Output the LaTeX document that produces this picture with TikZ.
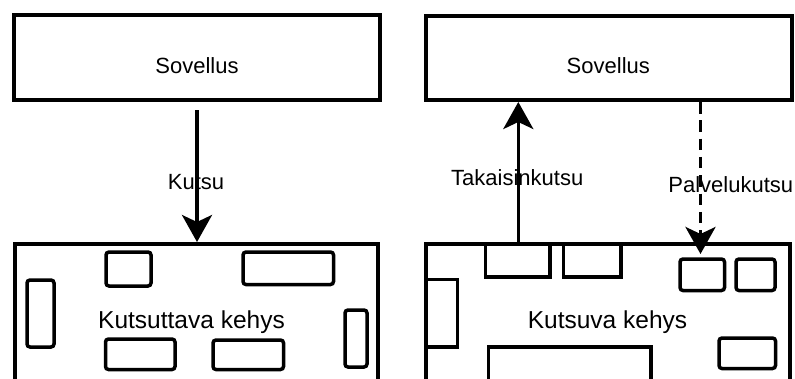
\documentclass[tikz,border=0pt]{standalone}
\usepackage{fontspec}
\setmainfont{Liberation Sans}
\usetikzlibrary{arrows.meta}
\begin{document}
\begin{tikzpicture}[x=1pt,y=-1pt,
  box/.style={draw,line width=4pt,inner sep=0pt},
  inbox/.style={draw,line width=3.5pt,rounded corners=3pt},
  sqbox/.style={draw,line width=3.5pt},
  lbl/.style={font=\fontsize{22}{26}\selectfont,inner sep=0pt,anchor=base},
  big/.style={font=\fontsize{24.5}{28}\selectfont,inner sep=0pt,anchor=base},
  arr/.style={line width=3.5pt,-{Stealth[length=27pt,width=30pt,inset=7pt]}},
]
\useasboundingbox (0,0) rectangle (795,378);
\clip (0,0) rectangle (795,378);

% ---------- left: Kutsu ----------
\node[box,minimum width=366pt,minimum height=85pt] (appL) at (197,57.5) {};
\node[lbl] (appLt) at (197,73.3) {Sovellus};
\node[box,minimum width=363pt,minimum height=200pt] (frameL) at (196.5,344) {};
\node[big] (frameLt) at (191.5,328.3) {Kutsuttava kehys};
\draw[inbox] (106,252) rectangle (151,286);
\draw[inbox] (243,252) rectangle (333.5,284.5);
\draw[inbox] (27,280) rectangle (54,347);
\draw[inbox] (105.5,339) rectangle (175,369.5);
\draw[inbox] (213,340) rectangle (283.5,369.5);
\draw[inbox] (345,310) rectangle (367,367);
\node[lbl] (kutsu) at (196,189.3) {Kutsu};
\draw[arr] (appL.south) ++(0,8) coordinate (kStart) -- (kStart |- frameL.north);

% ---------- right: Kutsuva kehys ----------
\node[box,minimum width=366pt,minimum height=84pt] (appR) at (609,58) {};
\node[lbl] (appRt) at (608.3,73.3) {Sovellus};
\node[box,minimum width=364.5pt,minimum height=200pt] (frameR) at (607.75,343.5) {};
\node[big] (frameRt) at (607.5,328.3) {Kutsuva kehys};
\draw[sqbox] (485.5,243.5) rectangle (550,277);
\draw[sqbox] (563.3,243.5) rectangle (621.2,277);
\draw[inbox] (680,259) rectangle (724.5,290.5);
\draw[inbox] (736,259) rectangle (775,290.5);
\draw[sqbox] (425.5,279.5) rectangle (457.5,347);
\draw[sqbox] (488.3,347) rectangle (651,420);
\draw[inbox] (719,338) rectangle (775.5,368.5);
\node[lbl] (takaisin) at (517.2,185) {Takaisinkutsu};
\node[lbl] (palvelu) at (730.8,192.7) {Palvelukutsu};
\coordinate (tkStart) at (518.3,243.5);
\draw[arr] (tkStart) -- (tkStart |- appR.south);
\coordinate (pvEnd) at (700.5,254);
\draw[arr,dash pattern=on 11.5pt off 6.8pt] (pvEnd |- appR.south) -- (pvEnd);
\end{tikzpicture}
\end{document}
